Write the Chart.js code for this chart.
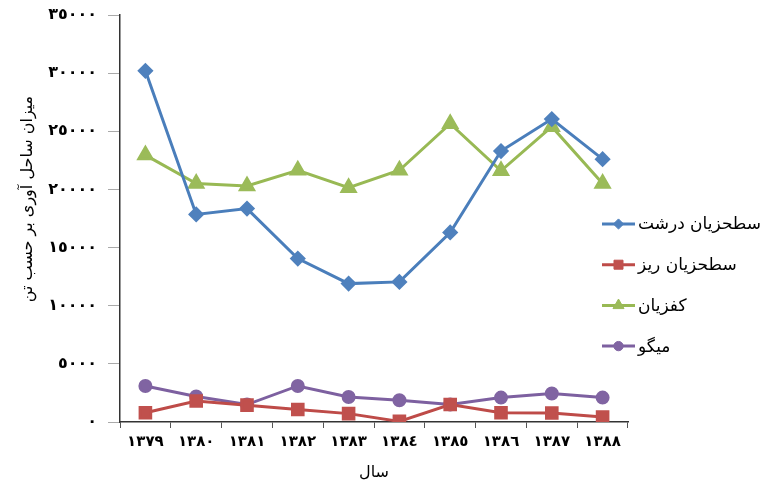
<!DOCTYPE html>
<html>
<head>
<meta charset="utf-8">
<script src="https://cdn.jsdelivr.net/npm/chart.js@4/dist/chart.umd.min.js"></script>
<style>
  html, body { margin: 0; padding: 0; background: #fff; }
  #wrap { width: 777px; height: 487px; }
</style>
</head>
<body>
<div id="wrap"><canvas id="catchChart"></canvas></div>
<script>
const years = ['١٣٧٩', '١٣٨٠', '١٣٨١', '١٣٨٢', '١٣٨٣', '١٣٨٤', '١٣٨٥', '١٣٨٦', '١٣٨٧', '١٣٨٨'];
const seriesNames = ['سطحزیان درشت', 'سطحزیان ریز', 'کفزیان', 'میگو'];
const largePelagic = [30200, 17850, 18350, 14050, 11900, 12050, 16300, 23300, 26050, 22600];
const smallPelagic = [800, 1800, 1450, 1070, 720, 50, 1500, 800, 770, 430];
const demersal = [22950, 20500, 20300, 21650, 20150, 21650, 25650, 21600, 25400, 20500];
const shrimp = [3100, 2200, 1500, 3100, 2150, 1870, 1500, 2100, 2450, 2100];
const yTicks = [0, 5000, 10000, 15000, 20000, 25000, 30000, 35000];

const yTitle = 'میزان ساحل آوری بر حسب تن';
const xTitle = 'سال';

const lineColors = ['#4A7EBB', '#BE4B48', '#98B954', '#7D60A0'];
const markColors = ['#4F81BD', '#C0504D', '#9BBB59', '#8064A2'];
const markStyles = ['rectRot', 'rect', 'triangle', 'circle'];
const markSizes = [6, 7.5, 7.5, 5.5];

const arabicDigits = '٠١٢٣٤٥٦٧٨٩';
function toArabic(n) {
  return String(n).replace(/[0-9]/g, d => arabicDigits[d]);
}

const allSeries = [largePelagic, smallPelagic, demersal, shrimp];
const datasets = allSeries.map((values, i) => ({
  label: seriesNames[i],
  data: values,
  borderColor: lineColors[i],
  backgroundColor: markColors[i],
  pointBackgroundColor: markColors[i],
  pointBorderColor: markColors[i],
  pointStyle: markStyles[i],
  pointRadius: markSizes[i],
  pointHoverRadius: markSizes[i],
  borderWidth: 3,
  tension: 0
}));

// legend with a line sample and marker, plus the y title a bit above centre
const sideLegend = {
  id: 'sideLegend',
  afterDraw(chart) {
    const ctx = chart.ctx;
    ctx.save();
    ctx.font = '17px "DejaVu Sans"';
    ctx.textBaseline = 'middle';
    ctx.textAlign = 'left';
    chart.data.datasets.forEach((ds, i) => {
      const y = 224 + i * 40.7;
      ctx.strokeStyle = ds.borderColor;
      ctx.lineWidth = 3;
      ctx.beginPath();
      ctx.moveTo(602, y);
      ctx.lineTo(635, y);
      ctx.stroke();
      ctx.fillStyle = ds.pointBackgroundColor;
      ctx.strokeStyle = ds.pointBorderColor;
      ctx.lineWidth = 1;
      Chart.helpers.drawPoint(ctx, { pointStyle: ds.pointStyle, radius: ds.pointRadius * 0.85, rotation: 0, borderWidth: 1 }, 618.5, y);
      ctx.fillStyle = '#000';
      ctx.fillText(ds.label, 638, y + 1);
    });

    ctx.translate(28, 199);
    ctx.rotate(-Math.PI / 2);
    ctx.textAlign = 'center';
    ctx.font = '16px "DejaVu Sans"';
    ctx.fillText(yTitle, 0, 0);
    ctx.restore();
  }
};

new Chart(document.getElementById('catchChart'), {
  type: 'line',
  data: { labels: years, datasets },
  plugins: [sideLegend],
  options: {
    responsive: true,
    maintainAspectRatio: false,
    animation: false,
    layout: { autoPadding: false, padding: { top: 15, right: 149, left: 0, bottom: 0 } },
    plugins: {
      legend: { display: false },
      tooltip: { enabled: false }
    },
    scales: {
      x: {
        offset: true,
        grid: { drawOnChartArea: false, offset: true, tickLength: 6, color: '#555' },
        border: { color: '#333', width: 1.5 },
        ticks: { color: '#000', padding: 5, font: { family: 'DejaVu Sans', size: 15, weight: 'bold' }, maxRotation: 0, autoSkip: false },
        title: { display: true, text: xTitle, color: '#000', font: { family: 'DejaVu Sans', size: 16 }, padding: { top: 0, bottom: 5 } },
        afterFit(s) { s.height = 65; }
      },
      y: {
        min: 0,
        max: 35000,
        afterBuildTicks(s) { s.ticks = yTicks.map(v => ({ value: v })); },
        grid: { drawOnChartArea: false, tickLength: 12, color: '#aaa' },
        border: { color: '#333', width: 1.5 },
        ticks: {
          color: '#000',
          padding: 11,
          font: { family: 'DejaVu Sans', size: 16, weight: 'bold' },
          callback: v => toArabic(v)
        },
        afterFit(s) {
          s.width = 120;
          s.paddingTop = 0;
          s.paddingBottom = 0;
        }
      }
    }
  }
});
</script>
</body>
</html>
